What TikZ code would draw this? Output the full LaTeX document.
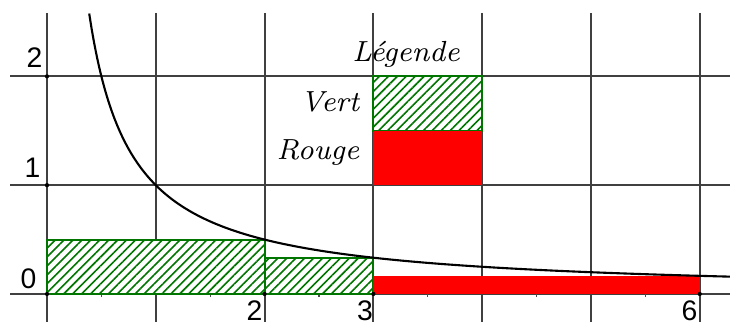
\documentclass[tikz,border=0pt]{standalone}
\usepackage{fontspec}
\newfontfamily\numfont{Liberation Sans}
\usetikzlibrary{patterns.meta}
\definecolor{hatchgreen}{RGB}{0,118,0}
\definecolor{fullred}{RGB}{255,0,0}
\tikzset{
  gridline/.style={line width=0.5pt, draw=black!75},
  hatchbox/.style={draw=hatchgreen, line width=0.55pt, preaction={fill=white},
    pattern={Lines[angle=45,distance=1.65pt,line width=0.42pt]}, pattern color=hatchgreen},
  redbox/.style={fill=fullred},
  numlabel/.style={inner sep=0pt, font=\numfont\fontsize{7.4}{9}\selectfont},
  itlabel/.style={inner sep=0pt, font=\fontsize{7.6}{9}\selectfont\itshape},
  curve/.style={line width=0.55pt, draw=black},
  axisdot/.style={fill=black, inner sep=0pt, minimum size=1.1pt, circle},
  minortick/.style={line width=0.3pt, draw=black!70}
}
\begin{document}
\begin{tikzpicture}[x=1cm,y=1cm]
\useasboundingbox (-0.432,-0.257) rectangle (6.278,2.702);
% grid
\foreach \i in {0,...,6} {
  \draw[gridline] (\i,2.583) -- (\i,-0.257);
}
\foreach \j in {0,1,2} {
  \draw[gridline] (-0.34,\j) -- (6.278,\j);
}
% minor ticks
\foreach \i in {0.5,1.5,...,5.5} {
  \draw[minortick] (\i,0) -- (\i,-0.025);
}
% areas
\path[hatchbox] (0,0) rectangle (2,0.5);
\path[hatchbox] (2,0) rectangle (3,1/3);
\path[redbox] (3,0) rectangle (6,1/6);
% legend boxes
\path[hatchbox] (3,1.5) rectangle (4,2);
\path[redbox] (3,1) rectangle (4,1.5);
% curve y = 1/x
\draw[curve] plot[domain=0.388:6.278, samples=250, smooth] (\x,{1/\x});
% dots
\foreach \p/\n in {{(0,0)}/d00,{(0,1)}/d01,{(0,2)}/d02,{(2,0)}/d20,{(3,0)}/d30,{(6,0)}/d60} {
  \node[axisdot] (\n) at \p {};
}
% labels
\node[numlabel] (ly2) at (-0.115,2.169) {2};
\node[numlabel] (ly1) at (-0.133,1.158) {1};
\node[numlabel] (ly0) at (-0.170,0.142) {0};
\node[numlabel] (lx2) at (1.907,-0.150) {2};
\node[numlabel] (lx3) at (2.923,-0.150) {3};
\node[numlabel] (lx6) at (5.905,-0.150) {6};
\node[itlabel, anchor=base] (leg) at (3.30,2.135) {Légende};
\node[itlabel, anchor=base east] (vert) at (2.877,1.676) {Vert};
\node[itlabel, anchor=base east] (rouge) at (2.877,1.232) {Rouge};
\end{tikzpicture}
\end{document}
